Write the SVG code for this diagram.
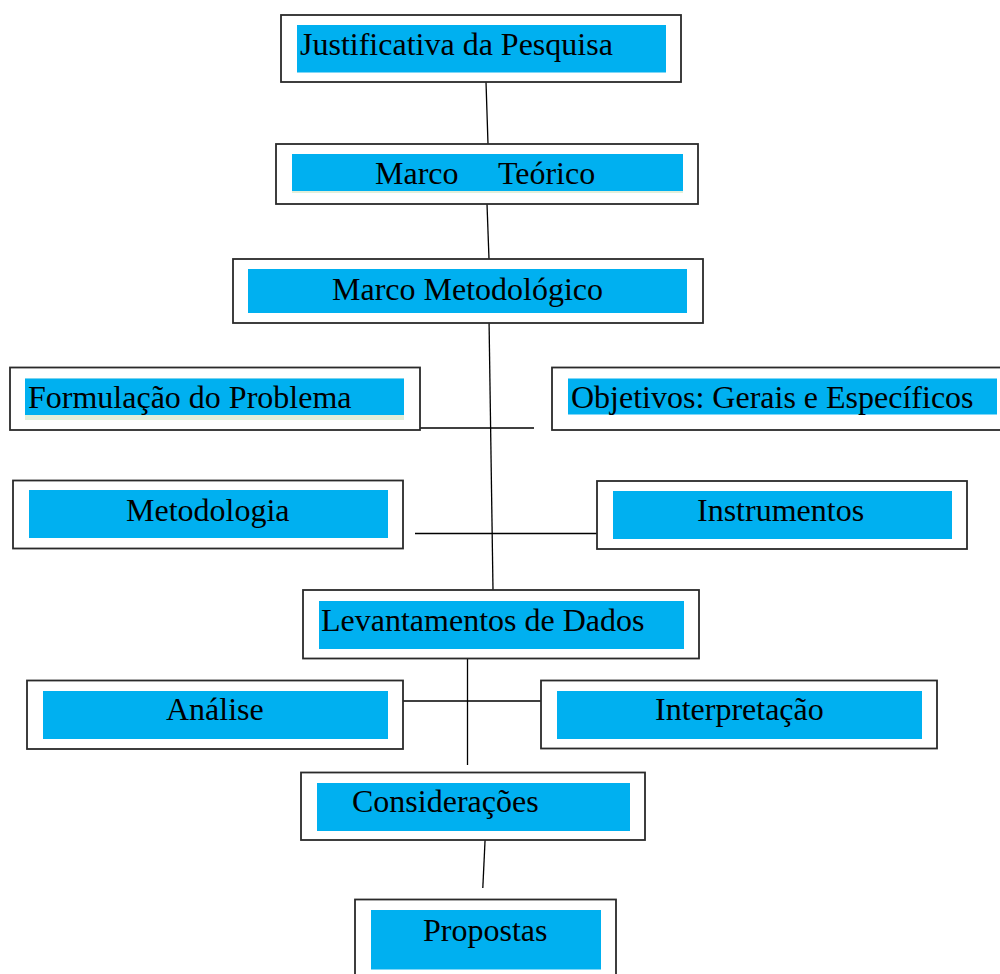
<svg xmlns="http://www.w3.org/2000/svg" width="1000" height="974" viewBox="0 0 1000 974">
<style>
.box{fill:#fff;stroke:#2a2a2a;stroke-width:1.8}
.fill{fill:#00B0F0}
.strip{fill:#E2EFDA}
.t{font-family:"Liberation Serif","Times New Roman",serif;font-size:32px;fill:#000;white-space:pre}
.c{stroke:#000;stroke-width:1.3;fill:none}
</style>
<rect width="1000" height="974" fill="#fff"/>
<g id="connectors">
<line class="c" x1="486" y1="82" x2="488" y2="144"/>
<line class="c" x1="487" y1="204" x2="489" y2="259"/>
<line class="c" x1="489" y1="318" x2="493" y2="590"/>
<line class="c" x1="420" y1="428" x2="534" y2="428"/>
<line class="c" x1="415" y1="533.5" x2="597" y2="533.5"/>
<line class="c" x1="467.5" y1="653" x2="467.5" y2="765"/>
<line class="c" x1="403" y1="701" x2="541" y2="701"/>
<line class="c" x1="485.3" y1="835" x2="482.8" y2="888"/>
</g>
<g id="justificativa">
<rect class="box" x="281" y="15" width="400" height="67"/>
<rect class="fill" x="297" y="25" width="369" height="47.5"/>
<text class="t" x="300" y="55">Justificativa da Pesquisa</text>
</g>
<g id="marco-teorico">
<rect class="box" x="276" y="144" width="422" height="60"/>
<rect class="strip" x="292" y="154" width="391" height="39"/>
<rect class="fill" x="292" y="154" width="391" height="37"/>
<text class="t" x="375" y="184" xml:space="preserve">Marco     Teórico</text>
</g>
<g id="marco-metodologico">
<rect class="box" x="233" y="259" width="470" height="64"/>
<rect class="fill" x="248" y="269" width="439" height="44"/>
<text class="t" x="332" y="300">Marco Metodológico</text>
</g>
<g id="formulacao">
<rect class="box" x="10" y="367.5" width="410" height="62.5"/>
<rect class="strip" x="25" y="378.5" width="379" height="41.5"/>
<rect class="fill" x="25" y="378.5" width="379" height="36.5"/>
<text class="t" x="28" y="408">Formulação do Problema</text>
</g>
<g id="objetivos">
<rect class="box" x="552" y="367.5" width="450" height="62.5"/>
<rect class="fill" x="568" y="378.5" width="429" height="36"/>
<text class="t" x="571" y="408">Objetivos: Gerais e Específicos</text>
</g>
<g id="metodologia">
<rect class="box" x="13" y="480.5" width="390" height="68"/>
<rect class="fill" x="29" y="490" width="359" height="48"/>
<text class="t" x="126" y="521">Metodologia</text>
</g>
<g id="instrumentos">
<rect class="box" x="597" y="481" width="370" height="68"/>
<rect class="fill" x="613" y="491" width="339" height="48"/>
<text class="t" x="697" y="521">Instrumentos</text>
</g>
<g id="levantamentos">
<rect class="box" x="303" y="590" width="396" height="68.5"/>
<rect class="fill" x="319" y="601" width="365" height="48"/>
<text class="t" x="321" y="631">Levantamentos de Dados</text>
</g>
<g id="analise">
<rect class="box" x="27" y="680.5" width="376" height="68.5"/>
<rect class="fill" x="43" y="691" width="345" height="48"/>
<text class="t" x="166" y="720">Análise</text>
</g>
<g id="interpretacao">
<rect class="box" x="541" y="680.5" width="396" height="68"/>
<rect class="fill" x="557" y="691" width="365" height="48"/>
<text class="t" x="655" y="720">Interpretação</text>
</g>
<g id="consideracoes">
<rect class="box" x="301" y="772.5" width="344" height="67.5"/>
<rect class="fill" x="317" y="783" width="313" height="48"/>
<text class="t" x="352" y="812">Considerações</text>
</g>
<g id="propostas">
<rect class="box" x="355" y="899.5" width="261" height="90"/>
<rect class="fill" x="371" y="910" width="230" height="59.5"/>
<text class="t" x="423" y="941">Propostas</text>
</g>
</svg>
